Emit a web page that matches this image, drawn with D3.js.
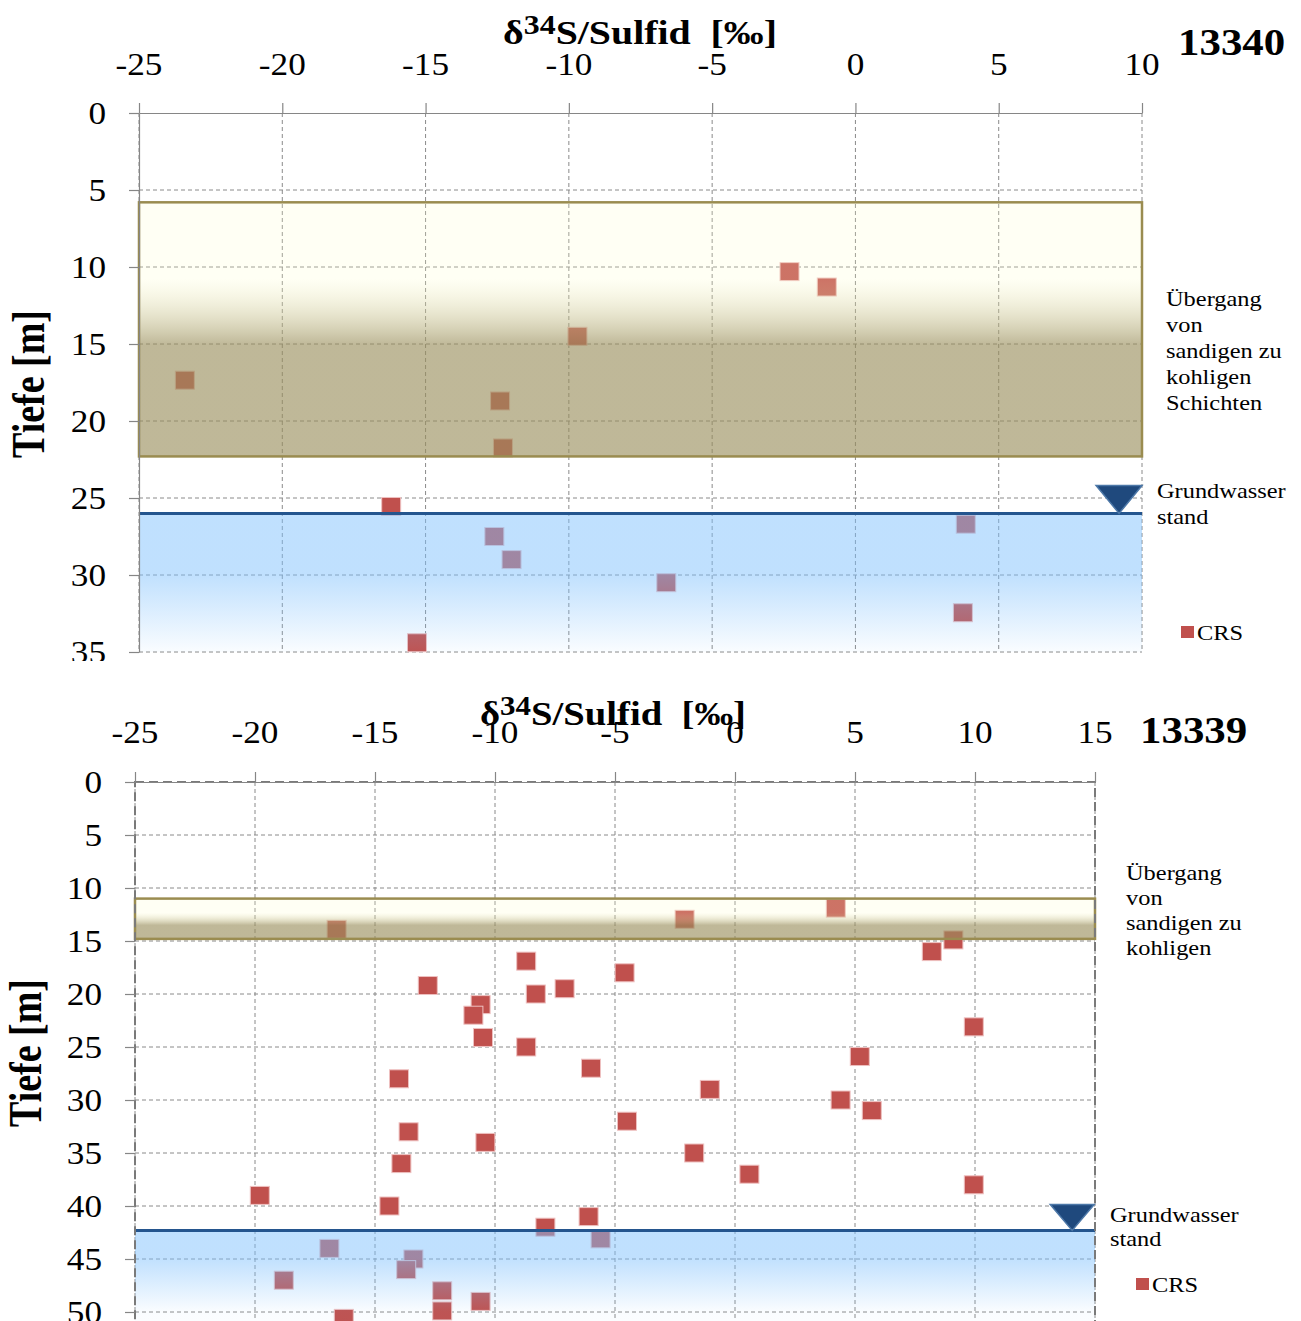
<!DOCTYPE html>
<html>
<head>
<meta charset="utf-8">
<script src="https://cdn.jsdelivr.net/npm/d3@7"></script>
<style>
  body { margin: 0; background: #fff; }
  svg { display: block; }
</style>
</head>
<body>
<svg id="chart" width="1301" height="1321"></svg>
<script>
// ---- data ----
var xTicks13340 = [-25, -20, -15, -10, -5, 0, 5, 10];
var yTicks13340 = [0, 5, 10, 15, 20, 25, 30, 35];
var delta13340 = [-2.3, -1.0, -9.7, -23.4, -12.4, -12.3, -16.2, -12.6, -12.0, -6.6, 3.85, 3.75, -15.3];
var depth13340 = [10.3, 11.3, 14.5, 17.35, 18.7, 21.75, 25.55, 27.5, 29.0, 30.5, 26.7, 32.45, 34.4];
var layer13340 = [5.8, 22.3];
var water13340 = 26.0;
var gwMark13340 = 9.2;

var xTicks13339 = [-25, -20, -15, -10, -5, 0, 5, 10, 15];
var yTicks13339 = [0, 5, 10, 15, 20, 25, 30, 35, 40, 45, 50];
var delta13339 = [-16.6, -2.1, 4.2, 9.1, 8.2, -8.7, -4.6, -12.8, -7.1, -8.3, -10.6, -10.9, 9.95, -10.5,
    -8.7, 5.2, -6.0, -14.0, -1.05, 4.4, 5.7, -4.5, -13.6, -10.4, -1.7, -13.9, 0.6, 9.95, -19.8, -14.4,
    -6.1, -7.9, -5.6, -16.9, -13.4, -13.7, -18.8, -12.2, -10.6, -12.2, -16.3];
var depth13339 = [13.9, 12.95, 11.9, 14.9, 16.0, 16.9, 18.0, 19.2, 19.5, 20.0, 21.0, 22.0, 23.1, 24.1,
    25.0, 25.9, 27.0, 28.0, 29.0, 30.0, 31.0, 32.0, 33.0, 34.0, 35.0, 36.0, 37.0, 38.0, 39.0, 40.0,
    41.0, 42.0, 43.1, 44.0, 45.0, 46.0, 47.0, 48.0, 49.0, 49.9, 50.6];
var layer13339 = [11.0, 14.8];
var water13339 = 42.3;
var gwMark13339 = 14.05;

var SERIF = "'Liberation Serif', 'Times New Roman', serif";
var svg = d3.select("#chart");
var defs = svg.append("defs");

// text that is a bit wider than the font, like the original picture
function label(parent, x, y, str, o) {
    var g = parent.append("g");
    var t = g.append("text")
        .attr("font-family", SERIF)
        .attr("font-size", o.size + "px")
        .attr("font-weight", o.weight || "normal")
        .attr("text-anchor", o.anchor || "start")
        .attr("fill", "#000");
    if (typeof str === "function") str(t); else t.text(str);
    var sx = o.sx || 1;
    if (o.width) sx = o.width / t.node().getComputedTextLength();
    g.attr("transform", "translate(" + x + "," + y + ") scale(" + sx + ",1)" + (o.rotate ? " rotate(" + o.rotate + ")" : ""));
    return t;
}

function gradient(id, stops) {
    var lg = defs.append("linearGradient").attr("id", id)
        .attr("x1", 0).attr("y1", 0).attr("x2", 0).attr("y2", 1);
    stops.forEach(function (s) {
        lg.append("stop").attr("offset", s[0]).attr("stop-color", s[1]).attr("stop-opacity", s[2]);
    });
}

function drawPanel(p) {
    defs.append("clipPath").attr("id", "clip-" + p.id)
        .append("rect").attr("x", 0).attr("y", p.clip[0]).attr("width", 1301).attr("height", p.clip[1] - p.clip[0]);
    var cream = "rgb(255,255,200)", tan = "rgb(154,143,93)", blue = "rgb(126,192,253)";
    gradient("band-" + p.id, [[0, cream, 0.2], [p.bandFade[0], cream, 0.2], [p.bandFade[1], tan, 0.635], [1, tan, 0.635]]);
    gradient("water-" + p.id, [[0, blue, 0.49], [p.waterFade[0], blue, 0.49], [p.waterFade[1], blue, 0.04], [1, blue, 0.03]]);

    var g = svg.append("g").attr("clip-path", "url(#clip-" + p.id + ")");
    var x = d3.scaleLinear().domain(p.xDomain).range(p.xRange);
    var y = d3.scaleLinear().domain(p.yDomain).range(p.yRange);
    var x0 = x(p.xDomain[0]), x1 = x(p.xDomain[1]);
    var yTop = y(p.yDomain[0]), yBot = y(p.yDomain[1]);

    // dashed grid
    g.selectAll(".vgrid").data(p.xTicks).enter().append("line")
        .attr("x1", function (d) { return x(d); }).attr("x2", function (d) { return x(d); })
        .attr("y1", yTop).attr("y2", yBot)
        .attr("stroke", "#8a8a8a").attr("stroke-width", 1).attr("stroke-dasharray", "4,3");
    g.selectAll(".hgrid").data(p.yTicks.slice(1)).enter().append("line")
        .attr("y1", function (d) { return y(d); }).attr("y2", function (d) { return y(d); })
        .attr("x1", x0).attr("x2", x1)
        .attr("stroke", "#8a8a8a").attr("stroke-width", 1).attr("stroke-dasharray", "4,3");

    // CRS points
    g.selectAll(".pt").data(p.delta).enter().append("rect")
        .attr("x", function (d) { return x(d) - 9.5; })
        .attr("y", function (d, i) { return y(p.depth[i]) - 9; })
        .attr("width", 19).attr("height", 18)
        .attr("fill", "#c0504d").attr("stroke", "#eec0c0").attr("stroke-width", 1);

    // transition layer and groundwater overlays
    g.append("rect")
        .attr("x", x0).attr("y", y(p.layer[0]))
        .attr("width", x1 - x0).attr("height", y(p.layer[1]) - y(p.layer[0]))
        .attr("fill", "url(#band-" + p.id + ")")
        .attr("stroke", "#9a8c50").attr("stroke-width", 2.5);
    g.append("rect")
        .attr("x", x0).attr("y", y(p.water))
        .attr("width", x1 - x0).attr("height", yBot - y(p.water))
        .attr("fill", "url(#water-" + p.id + ")");
    g.append("line")
        .attr("x1", x0).attr("x2", x1).attr("y1", y(p.water)).attr("y2", y(p.water))
        .attr("stroke", "#24558e").attr("stroke-width", 3);
    var tx = x(p.gwMark), ty = y(p.water);
    g.append("path")
        .attr("d", "M" + (tx - p.tri[0] / 2) + "," + (ty - p.tri[1]) + "L" + (tx + p.tri[0] / 2) + "," + (ty - p.tri[1]) + "L" + tx + "," + ty + "Z")
        .attr("fill", "#1f497d").attr("stroke", "#4d78a8").attr("stroke-width", 1.5);

    if (p.border) {
        g.append("rect").attr("x", x0).attr("y", yTop).attr("width", x1 - x0).attr("height", yBot - yTop)
            .attr("fill", "none").attr("stroke", "#7a7a7a").attr("stroke-width", 2).attr("stroke-dasharray", "9,5");
    }

    // axes
    var ax = g.append("g").attr("transform", "translate(0," + yTop + ")")
        .call(d3.axisTop(x).tickValues(p.xTicks).tickSize(10).tickSizeOuter(0).tickFormat(""));
    var ay = g.append("g").attr("transform", "translate(" + x0 + ",0)")
        .call(d3.axisLeft(y).tickValues(p.yTicks).tickSize(10).tickSizeOuter(0).tickFormat(""));
    [ax, ay].forEach(function (a) {
        a.selectAll("path, line").attr("stroke", "#868686").attr("stroke-width", 1.2);
    });
    if (p.border) ay.select(".domain").remove();

    p.xTicks.forEach(function (d) {
        label(g, x(d), p.xLabelY, String(d), { size: 32, sx: 1.1, anchor: "middle" });
    });
    p.yTicks.forEach(function (d) {
        label(g, p.yLabelX, y(d) + 11, String(d), { size: 32, sx: 1.1, anchor: "end" });
    });

    // titles
    label(g, p.title[0], p.title[1], function (t) {
        t.append("tspan").text("δ");
        t.append("tspan").attr("dy", "-0.36em").attr("font-size", "0.8em").text("34");
        t.append("tspan").attr("dy", "0.29em").text("S/Sulfid\u00a0\u00a0[‰]");
    }, { size: 34, weight: "bold", anchor: "middle", width: p.title[2] });
    label(g, p.idPos[0], p.idPos[1], p.name, { size: 37, weight: "bold", sx: 1.16 });
    label(g, p.yTitle[0], p.yTitle[1], "Tiefe [m]", { size: 38, weight: "bold", anchor: "middle", sx: 1.2, rotate: -90 });

    p.layerText.forEach(function (s, i) {
        label(g, p.layerPos[0], p.layerPos[1] + i * p.layerPos[2], s, { size: 20, sx: 1.22 });
    });
    label(g, p.gwPos[0], p.gwPos[1], "Grundwasser", { size: 20, sx: 1.22 });
    label(g, p.gwPos[0], p.gwPos[1] + p.gwPos[2], "stand", { size: 20, sx: 1.22 });

    g.append("rect").attr("x", p.legend[0]).attr("y", p.legend[1] - 14)
        .attr("width", 13).attr("height", 12).attr("fill", "#c0504d");
    label(g, p.legend[0] + 16, p.legend[1], "CRS", { size: 20, sx: 1.22 });
}

drawPanel({
    id: "a", name: "13340", clip: [0, 661],
    xDomain: [-25, 10], xRange: [139, 1142], yDomain: [0, 35], yRange: [113, 652],
    xTicks: xTicks13340, yTicks: yTicks13340, delta: delta13340, depth: depth13340,
    layer: layer13340, water: water13340, gwMark: gwMark13340, tri: [46, 28],
    bandFade: [0.3, 0.56], waterFade: [0.44, 1],
    xLabelY: 75, yLabelX: 106, title: [640, 44, 274], idPos: [1178, 55], yTitle: [44, 384],
    layerText: ["Übergang", "von", "sandigen zu", "kohligen", "Schichten"], layerPos: [1166, 306, 26],
    gwPos: [1157, 498, 26], legend: [1181, 640], border: false
});

drawPanel({
    id: "b", name: "13339", clip: [661, 1321],
    xDomain: [-25, 15], xRange: [135, 1095], yDomain: [0, 51], yRange: [782, 1322.6],
    xTicks: xTicks13339, yTicks: yTicks13339, delta: delta13339, depth: depth13339,
    layer: layer13339, water: water13339, gwMark: gwMark13339, tri: [44, 26],
    bandFade: [0.35, 0.66], waterFade: [0.3, 0.88],
    xLabelY: 743, yLabelX: 102, title: [613, 725, 266], idPos: [1140, 743], yTitle: [41, 1053],
    layerText: ["Übergang", "von", "sandigen zu", "kohligen"], layerPos: [1126, 880, 25],
    gwPos: [1110, 1222, 24], legend: [1136, 1292], border: true
});
</script>
</body>
</html>
